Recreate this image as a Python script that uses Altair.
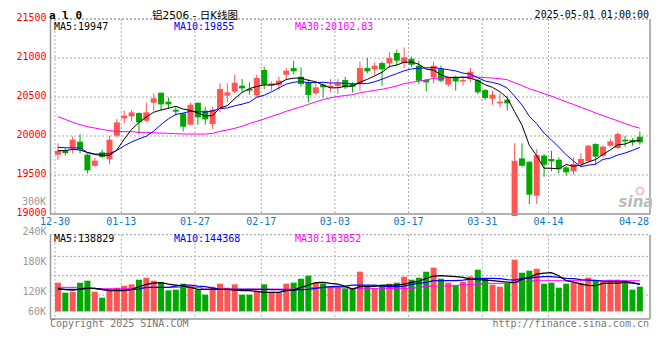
import altair as alt
import pandas as pd

# ---------------- data ----------------
dates = ["12-30", "12-31", "01-02", "01-03", "01-06", "01-07", "01-08", "01-09", "01-10", "01-13",
         "01-14", "01-15", "01-16", "01-17", "01-20", "01-21", "01-22", "01-23", "01-24", "01-27",
         "02-05", "02-06", "02-07", "02-10", "02-11", "02-12", "02-13", "02-14", "02-17", "02-18",
         "02-19", "02-20", "02-21", "02-24", "02-25", "02-26", "02-27", "02-28", "03-03", "03-04",
         "03-05", "03-06", "03-07", "03-10", "03-11", "03-12", "03-13", "03-14", "03-17", "03-18",
         "03-19", "03-20", "03-21", "03-24", "03-25", "03-26", "03-27", "03-28", "03-31", "04-01",
         "04-02", "04-03", "04-07", "04-08", "04-09", "04-10", "04-11", "04-14", "04-15", "04-16",
         "04-17", "04-18", "04-21", "04-22", "04-23", "04-24", "04-25", "04-28", "04-29", "04-30"]

opens = [19760, 19812, 19842, 19927, 19760, 19619, 19790, 19701, 20004, 20226,
         20252, 20295, 20196, 20427, 20555, 20440, 20337, 20290, 20145, 20427,
         20324, 20153, 20346, 20517, 20568, 20645, 20602, 20521, 20846, 20645,
         20653, 20786, 20871, 20760, 20688, 20547, 20658, 20624, 20641, 20718,
         20666, 20675, 20871, 20854, 20935, 20931, 21064, 20935, 20991, 20901,
         20718, 20752, 20859, 20658, 20760, 20700, 20730, 20717, 20589, 20478,
         20418, 20465, 18975, 19713, 19671, 19235, 19748, 19705, 19696, 19598,
         19547, 19641, 19675, 19897, 19748, 19876, 19846, 19953, 19948, 19991]

highs = [19906, 19846, 19995, 20021, 19778, 19718, 19825, 20004, 20218, 20325,
         20333, 20303, 20431, 20546, 20555, 20495, 20380, 20290, 20427, 20427,
         20376, 20367, 20675, 20675, 20786, 20730, 20688, 20786, 20889, 20700,
         20760, 20871, 20965, 20880, 20730, 20675, 20675, 20730, 20730, 20760,
         20688, 20953, 21000, 20944, 20953, 21072, 21106, 21136, 21017, 20965,
         20730, 20953, 20901, 20760, 20773, 20760, 20871, 20730, 20602, 20581,
         20547, 20517, 19906, 19906, 19671, 19833, 19769, 19812, 19726, 19619,
         19726, 19778, 19889, 19906, 19876, 19961, 20047, 20004, 19974, 20059]

lows = [19692, 19748, 19778, 19778, 19521, 19607, 19718, 19637, 19983, 20162,
        20196, 20025, 20175, 20324, 20324, 20346, 20260, 20060, 20145, 20145,
        20145, 20089, 20303, 20431, 20547, 20560, 20530, 20495, 20602, 20581,
        20589, 20718, 20794, 20632, 20431, 20525, 20495, 20560, 20538, 20602,
        20560, 20581, 20803, 20786, 20645, 20871, 20901, 20871, 20888, 20666,
        20572, 20675, 20688, 20632, 20580, 20645, 20688, 20538, 20461, 20401,
        20367, 20324, 18970, 19598, 19128, 19128, 19478, 19547, 19521, 19491,
        19504, 19607, 19662, 19632, 19726, 19863, 19833, 19863, 19876, 19889]

closes = [19812, 19782, 19953, 19833, 19560, 19684, 19731, 19953, 20175, 20260,
          20303, 20175, 20303, 20483, 20405, 20405, 20312, 20119, 20401, 20239,
          20213, 20337, 20602, 20560, 20683, 20611, 20581, 20743, 20658, 20675,
          20709, 20837, 20829, 20666, 20525, 20624, 20624, 20645, 20675, 20624,
          20632, 20871, 20829, 20901, 20854, 20999, 20966, 21008, 20914, 20709,
          20688, 20901, 20709, 20752, 20700, 20717, 20824, 20560, 20487, 20530,
          20440, 20418, 19683, 19619, 19248, 19756, 19632, 19675, 19577, 19534,
          19641, 19705, 19876, 19735, 19863, 19931, 20025, 19931, 19918, 19918]

# moving-average values before enough closes are visible
ma5_head = [19812, 19812, 19829, 19820]
ma10_head = [19854, 19850, 19846, 19846, 19790, 19769, 19769, 19775, 19815]
ma30_head = [20248, 20213, 20175, 20145, 20119, 20102, 20085, 20068, 20060, 20055,
             20055, 20047, 20047, 20042, 20038, 20034, 20030, 20025, 20025, 20025,
             20025, 20034, 20060, 20077, 20098, 20125, 20160, 20188, 20218]

volumes_k = [144.0, 124.0, 126.0, 144.0, 148.0, 126.0, 114.0, 130.7, 134.0, 138.0,
             140.7, 150.0, 154.0, 148.0, 145.3, 128.7, 130.0, 142.0, 136.7, 130.0,
             120.0, 136.0, 142.0, 134.0, 140.7, 120.0, 120.0, 128.0, 140.7, 124.7,
             124.7, 142.0, 144.0, 152.0, 158.0, 144.0, 142.0, 136.0, 136.0, 132.7,
             132.7, 166.0, 137.3, 132.7, 140.0, 142.0, 144.0, 156.0, 150.0, 154.0,
             166.0, 174.0, 152.0, 144.0, 138.0, 146.0, 156.7, 170.0, 152.7, 140.0,
             136.0, 142.0, 190.0, 164.0, 168.0, 172.0, 142.0, 144.0, 134.0, 142.0,
             144.0, 144.0, 154.0, 148.0, 146.0, 150.0, 150.0, 142.0, 130.0, 136.0]

vol_ma5_k = [132.7, 130.0, 129.3, 131.3, 132.7, 132.7, 130.7, 128.0, 128.0, 128.0,
             130.7, 136.0, 140.7, 143.3, 144.0, 141.3, 139.3, 137.3, 134.7, 130.7,
             130.7, 130.7, 130.7, 130.7, 129.3, 128.0, 128.0, 126.7, 124.7, 124.7,
             124.7, 128.0, 129.3, 134.7, 139.3, 144.0, 144.7, 142.7, 141.3, 136.7,
             131.3, 136.0, 136.7, 136.7, 138.7, 139.3, 139.3, 141.3, 144.7, 146.7,
             152.7, 157.3, 158.0, 157.3, 156.0, 154.7, 151.3, 150.0, 149.3, 148.0,
             146.7, 145.3, 144.0, 150.7, 154.7, 161.3, 163.3, 164.0, 158.0, 148.0,
             145.3, 141.3, 138.7, 138.0, 142.7, 143.3, 143.3, 144.0, 143.3, 141.3]

vol_ma10_k = [130.7, 130.7, 130.7, 131.3, 132.7, 132.7, 130.0, 129.3, 129.3, 129.3,
              130.0, 131.3, 134.7, 134.7, 134.7, 134.7, 137.3, 139.3, 139.3, 137.3,
              136.0, 133.3, 130.7, 130.7, 130.7, 130.7, 130.7, 130.7, 130.7, 130.0,
              130.0, 129.3, 129.3, 130.0, 130.7, 132.7, 134.7, 136.0, 136.7, 137.3,
              139.3, 139.3, 139.3, 139.3, 137.3, 136.0, 136.0, 137.3, 140.7, 142.7,
              144.7, 148.0, 148.0, 148.0, 148.0, 149.3, 151.3, 152.7, 152.7, 152.7,
              152.0, 150.0, 149.3, 152.7, 153.3, 155.3, 156.0, 156.0, 154.7, 152.7,
              152.0, 150.0, 149.3, 148.7, 147.3, 146.7, 146.7, 146.7, 144.7, 140.7]

vol_ma30_k = [134.7, 134.7, 134.7, 134.7, 134.7, 132.0, 132.0, 132.0, 132.0, 132.0,
              132.0, 134.7, 134.7, 134.7, 134.7, 134.7, 134.7, 134.7, 134.7, 134.7,
              131.3, 131.3, 131.3, 131.3, 131.3, 131.3, 131.3, 131.3, 131.3, 131.3,
              131.3, 131.3, 131.3, 134.0, 134.0, 134.0, 134.0, 134.0, 134.0, 134.0,
              132.7, 132.7, 132.7, 132.7, 132.7, 132.7, 132.7, 132.7, 132.7, 134.7,
              136.7, 137.3, 137.3, 137.3, 138.7, 140.0, 140.0, 140.0, 142.7, 142.7,
              142.7, 142.7, 144.7, 146.7, 146.7, 148.0, 148.0, 148.0, 148.0, 148.0,
              148.0, 148.0, 148.0, 148.0, 148.0, 148.0, 148.0, 148.0, 148.0, 148.0]

tick_labels = ["12-30", "01-13", "01-27", "02-17", "03-03", "03-17", "03-31", "04-14", "04-28"]
price_ticks = [19000, 19500, 20000, 20500, 21000, 21500]
vol_ticks_k = [120, 180, 240]
vol_grid_k = [196.6, 158.0, 119.4]
vol_base_k = 86.6

# ---------------- styling ----------------
RED = "#FF5555"
GREEN = "#00A800"
GRID = "#AAAAAA"
FRAME = "#999999"
MONO = "DejaVu Sans Mono"

XS = alt.Scale(domain=[-0.4, 79.7], nice=False, zero=False)
PS = alt.Scale(domain=[19000, 21500], range=[195, 0], nice=False, zero=False)
VS = alt.Scale(domain=[71400, 240000], range=[300, 215.7], nice=False, zero=False)

PAXIS = alt.Axis(orient="left", values=price_ticks, title=None, ticks=False, labelPadding=4,
                 labelColor="#FF0000", labelFont=MONO, labelFontSize=10, labelBaseline="middle",
                 labelOffset=-2, labelFlush=False, labelOverlap=False, grid=False,
                 domainColor=FRAME, domainWidth=1.5, format="d")
VAXIS = alt.Axis(orient="left", values=[v * 1000 for v in vol_ticks_k], title=None, ticks=False,
                 labelPadding=4, labelColor="#999999", labelFont=MONO, labelFontSize=10,
                 labelBaseline="middle", labelOffset=-3, labelFlush=False, labelOverlap=False,
                 grid=False, domainColor=FRAME, domainWidth=1.5,
                 labelExpr="format(datum.value / 1000, 'd') + 'K'")


def X(field):
    return alt.X(f"{field}:Q", scale=XS, axis=None)


def PY(field):
    return alt.Y(f"{field}:Q", scale=PS, axis=PAXIS)


def VY(field):
    return alt.Y(f"{field}:Q", scale=VS, axis=VAXIS)


# ---------------- tables ----------------
n = len(dates)
df = pd.DataFrame({"i": list(range(n)), "date": dates, "open": opens, "high": highs,
                   "low": lows, "close": closes})
s = pd.Series(closes, dtype=float)
ma5 = s.rolling(5).mean().tolist()
ma10 = s.rolling(10).mean().tolist()
ma30 = s.rolling(30).mean().tolist()
ma5[:len(ma5_head)] = ma5_head
ma10[:len(ma10_head)] = ma10_head
ma30[:len(ma30_head)] = ma30_head
df["ma5"] = ma5
df["ma10"] = ma10
df["ma30"] = ma30
df["vol"] = [v * 1000 for v in volumes_k]
df["vbase"] = vol_base_k * 1000
df["vma5"] = [v * 1000 for v in vol_ma5_k]
df["vma10"] = [v * 1000 for v in vol_ma10_k]
df["vma30"] = [v * 1000 for v in vol_ma30_k]

ticks = pd.DataFrame({"label": tick_labels, "idx": [dates.index(t) for t in tick_labels]})
ticks["pos"] = ticks["idx"] - 0.4
grid_ticks = ticks.iloc[:-1]

UPCOLOR = alt.condition("datum.close >= datum.open", alt.value(RED), alt.value(GREEN))

base = alt.Chart(df)

# ---------------- price panel ----------------
p_grid = alt.Chart(pd.DataFrame({"p": price_ticks[1:]})).mark_rule(
    color=GRID, strokeDash=[2, 2], strokeWidth=1).encode(
    y=PY("p"), x=alt.value(0), x2=alt.value(600))
p_vgrid = alt.Chart(grid_ticks).mark_rule(color=GRID, strokeDash=[2, 2], strokeWidth=1).encode(
    x=X("pos"), y=alt.value(0), y2=alt.value(195))
wicks = base.mark_rule(strokeWidth=1).encode(x=X("i"), y=PY("low"), y2="high:Q", color=UPCOLOR)
bodies = base.mark_bar(size=6).encode(x=X("i"), y=PY("open"), y2="close:Q", color=UPCOLOR)
l30 = base.mark_line(color="#FF00FF", strokeWidth=1).encode(x=X("i"), y=PY("ma30"))
l10 = base.mark_line(color="#0000FF", strokeWidth=1).encode(x=X("i"), y=PY("ma10"))
l5 = base.mark_line(color="#000000", strokeWidth=1).encode(x=X("i"), y=PY("ma5"))
price = alt.layer(p_grid, p_vgrid, wicks, bodies, l30, l10, l5)

# ---------------- volume panel ----------------
v_grid = alt.Chart(pd.DataFrame({"v": [g * 1000 for g in vol_grid_k]})).mark_rule(
    color=GRID, strokeDash=[2, 2], strokeWidth=1).encode(
    y=VY("v"), x=alt.value(0), x2=alt.value(600))
v_vgrid = alt.Chart(grid_ticks).mark_rule(color=GRID, strokeDash=[2, 2], strokeWidth=1).encode(
    x=X("pos"), y=alt.value(215.7), y2=alt.value(300))
vbars = base.mark_bar(size=6).encode(x=X("i"), y=VY("vol"), y2="vbase:Q", color=UPCOLOR)
vl30 = base.mark_line(color="#FF00FF", strokeWidth=1, interpolate="step").encode(x=X("i"), y=VY("vma30"))
vl10 = base.mark_line(color="#0000FF", strokeWidth=1.2).encode(x=X("i"), y=VY("vma10"))
vl5 = base.mark_line(color="#000000", strokeWidth=1.2).encode(x=X("i"), y=VY("vma5"))
volume = alt.layer(v_grid, v_vgrid, vbars, vl30, vl10, vl5)


# ---------------- frame + texts ----------------
def hline(y, dash=None, width=1.5):
    kw = dict(color=FRAME, strokeWidth=width)
    if dash:
        kw["strokeDash"] = dash
    return alt.Chart(pd.DataFrame({"a": [0]})).mark_rule(**kw).encode(
        x=alt.value(0), x2=alt.value(600), y=alt.value(y))


def vline(x, y1, y2):
    return alt.Chart(pd.DataFrame({"a": [0]})).mark_rule(color=FRAME, strokeWidth=1.5).encode(
        x=alt.value(x), y=alt.value(y1), y2=alt.value(y2))


def txt(t, x, y, color="#000000", size=10, align="left", font=MONO, weight="normal",
        style="normal", baseline="middle"):
    return alt.Chart(pd.DataFrame({"t": [t]})).mark_text(
        align=align, baseline=baseline, font=font, fontSize=size, color=color,
        fontWeight=weight, fontStyle=style).encode(x=alt.value(x), y=alt.value(y), text="t:N")


frame = [
    hline(0, dash=[2, 2], width=1),
    hline(195),
    vline(600, 0, 195),
    hline(215.7, dash=[2, 2], width=1),
    hline(300),
    vline(600, 215.7, 300),
]

xlabels = alt.Chart(ticks.iloc[:-1]).mark_text(
    font=MONO, fontSize=10, color="#0A78C8", align="center", baseline="middle").encode(
    x=X("pos"), text="label:N", y=alt.value(202.7))

texts = [
    xlabels,
    txt(tick_labels[-1], 599, 202.7, color="#0A78C8", align="right"),
    txt("a l 0", -1, -9.5, size=11, weight="bold", baseline="top"),
    txt("铝2506 - 日K线图", 145, -8, size=10.5, align="center",
        font="DejaVu Sans, Noto Sans CJK SC", baseline="top"),
    txt("2025-05-01 01:00:00", 599, -9.5, size=10, align="right", baseline="top"),
    txt("MA5:19947", 4, 7.5),
    txt("MA10:19855", 124, 7.5, color="#0000FF"),
    txt("MA30:20102.83", 245, 7.5, color="#FF00FF"),
    txt("MA5:138829", 4, 220),
    txt("MA10:144368", 124, 220, color="#0000FF"),
    txt("MA30:163852", 245, 220, color="#FF00FF"),
    txt("300K", -4, 183.2, color="#999999", align="right"),
    txt("60K", -4, 292.7, color="#999999", align="right"),
    txt("Copyright 2025 SINA.COM", 0, 304.7, color="#777777"),
    txt("http://finance.sina.com.cn", 599, 304.7, color="#777777", align="right"),
    txt("sina", 586, 183, color="#BBBBBB", size=15, align="center", font="DejaVu Sans",
        weight="bold", style="italic"),
    alt.Chart(pd.DataFrame({"a": [0]})).mark_point(
        shape="circle", size=50, color="#F2A8A8", strokeWidth=2, filled=False).encode(
        x=alt.value(590), y=alt.value(172)),
]

chart = alt.layer(price, volume, *frame, *texts).resolve_scale(y="independent").properties(
    width=600, height=300,
    autosize=alt.AutoSizeParams(type="none"),
    padding={"left": 42, "top": 11, "right": 2, "bottom": 22},
).configure_view(strokeWidth=0)

chart.save("out.html", embed_options={"renderer": "svg", "actions": False})
